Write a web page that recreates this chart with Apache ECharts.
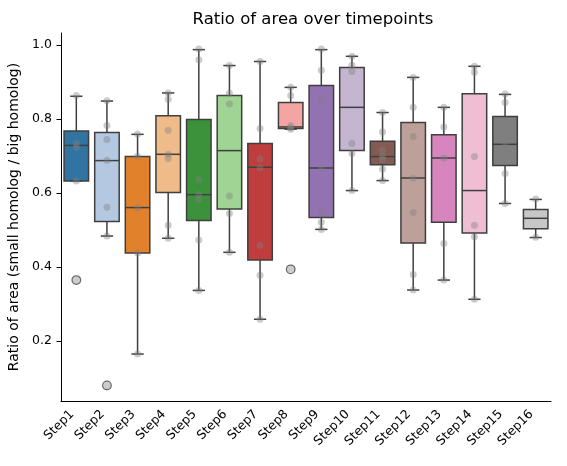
<!DOCTYPE html>
<html>
<head>
<meta charset="utf-8">
<script src="https://cdn.jsdelivr.net/npm/echarts@6/dist/echarts.min.js"></script>
<style>
  html, body { margin: 0; padding: 0; background: #fff; }
  #chart { width: 567px; height: 466px; }
</style>
</head>
<body>
<div id="chart"></div>
<script>
// categories
var steps = ["Step1", "Step2", "Step3", "Step4", "Step5", "Step6", "Step7", "Step8",
  "Step9", "Step10", "Step11", "Step12", "Step13", "Step14", "Step15", "Step16"];

// box stats per step: [whisker low, Q1, median, Q3, whisker high]
var boxStats = [
  [0.633, 0.633, 0.729, 0.768, 0.862],
  [0.484, 0.523, 0.688, 0.764, 0.849],
  [0.165, 0.438, 0.561, 0.699, 0.759],
  [0.478, 0.602, 0.705, 0.809, 0.871],
  [0.337, 0.526, 0.596, 0.799, 0.988],
  [0.440, 0.557, 0.715, 0.864, 0.945],
  [0.259, 0.419, 0.670, 0.734, 0.956],
  [0.773, 0.775, 0.779, 0.845, 0.886],
  [0.502, 0.534, 0.668, 0.891, 0.988],
  [0.607, 0.715, 0.832, 0.940, 0.970],
  [0.634, 0.677, 0.699, 0.740, 0.818],
  [0.338, 0.465, 0.641, 0.791, 0.913],
  [0.365, 0.521, 0.695, 0.758, 0.832],
  [0.313, 0.492, 0.607, 0.869, 0.943],
  [0.572, 0.675, 0.732, 0.807, 0.867],
  [0.480, 0.504, 0.532, 0.556, 0.583]
];

// outliers: [step index, value]
var outliers = [[0, 0.365], [1, 0.080], [7, 0.394]];

// individual observations per step (strip points)
var points = [
  [0.864, 0.734, 0.724, 0.633, 0.365],
  [0.850, 0.783, 0.745, 0.689, 0.562, 0.484, 0.080],
  [0.760, 0.700, 0.560, 0.438, 0.165],
  [0.871, 0.854, 0.770, 0.705, 0.694, 0.513, 0.478],
  [0.990, 0.961, 0.637, 0.596, 0.583, 0.473, 0.337],
  [0.945, 0.870, 0.841, 0.592, 0.545, 0.440],
  [0.956, 0.775, 0.692, 0.669, 0.459, 0.378, 0.259],
  [0.886, 0.864, 0.782, 0.777, 0.773, 0.394],
  [0.990, 0.932, 0.853, 0.668, 0.548, 0.521, 0.502],
  [0.970, 0.946, 0.929, 0.734, 0.707, 0.607],
  [0.818, 0.765, 0.716, 0.700, 0.691, 0.665, 0.634],
  [0.913, 0.832, 0.753, 0.640, 0.548, 0.380, 0.338],
  [0.832, 0.779, 0.695, 0.464, 0.365],
  [0.943, 0.927, 0.699, 0.513, 0.482, 0.313],
  [0.868, 0.845, 0.732, 0.653, 0.572],
  [0.584, 0.481]
];

var yTicks = [0.2, 0.4, 0.6, 0.8, 1.0];

var palette = ["#1f77b4", "#aec7e8", "#ff7f0e", "#ffbb78", "#2ca02c", "#98df8a",
  "#d62728", "#ff9896", "#9467bd", "#c5b0d5", "#8c564b", "#c49c94",
  "#e377c2", "#f7b6d2", "#7f7f7f", "#c7c7c7"];

// seaborn-style desaturation (saturation = 0.75) in HLS space
function desat(hex, prop) {
  var r = parseInt(hex.substr(1, 2), 16) / 255;
  var g = parseInt(hex.substr(3, 2), 16) / 255;
  var b = parseInt(hex.substr(5, 2), 16) / 255;
  var mx = Math.max(r, g, b), mn = Math.min(r, g, b);
  var l = (mx + mn) / 2;
  if (mx === mn) return hex;
  var d = mx - mn;
  var s = l > 0.5 ? d / (2 - mx - mn) : d / (mx + mn);
  var s2 = s * prop;
  var c = (1 - Math.abs(2 * l - 1)) * s2;
  var nmn = l - c / 2;
  function ch(v) {
    var t = nmn + (v - mn) / d * c;
    var n = Math.round(t * 255);
    return ("0" + n.toString(16)).slice(-2);
  }
  return "#" + ch(r) + ch(g) + ch(b);
}
var boxColors = palette.map(function (c) { return desat(c, 0.75); });

var lineColor = "#3f3f3f";

var boxData = boxStats.map(function (s, i) {
  return [i, s[0], s[1], s[2], s[3], s[4]];
});

var stripData = [];
points.forEach(function (arr, i) {
  arr.forEach(function (v) { stripData.push([i, v]); });
});

var myChart = echarts.init(document.getElementById("chart"));
myChart.setOption({
  animation: false,
  title: {
    text: "Ratio of area over timepoints",
    left: 308,
    top: 6,
    textAlign: "center",
    textStyle: {
      fontFamily: "DejaVu Sans",
      fontSize: 16.5,
      fontWeight: "normal",
      color: "#000"
    }
  },
  grid: {
    left: 61,
    right: 16,
    top: 33,
    bottom: 65,
    outerBoundsMode: "none"
  },
  xAxis: {
    type: "category",
    data: steps,
    axisLine: { lineStyle: { color: "#000", width: 1 } },
    axisTick: { alignWithLabel: true, length: 4.5, lineStyle: { color: "#000" } },
    axisLabel: {
      rotate: 45,
      margin: 7,
      padding: [0, 6, 0, 0],
      interval: 0,
      fontFamily: "DejaVu Sans",
      fontSize: 12.5,
      color: "#000"
    },
    splitLine: { show: false }
  },
  yAxis: {
    type: "value",
    min: 0.038,
    max: 1.033,
    name: "Ratio of area (small homolog / big homolog)",
    nameLocation: "middle",
    nameGap: 37,
    nameTextStyle: {
      fontFamily: "DejaVu Sans",
      fontSize: 14,
      color: "#000"
    },
    axisLine: { show: true, lineStyle: { color: "#000", width: 1 } },
    axisTick: { show: true, length: 4.5, customValues: yTicks, lineStyle: { color: "#000" } },
    axisLabel: {
      customValues: yTicks,
      margin: 9,
      fontFamily: "DejaVu Sans",
      fontSize: 12.5,
      color: "#000",
      formatter: function (v) { return v.toFixed(1); }
    },
    splitLine: { show: false }
  },
  series: [
    {
      type: "custom",
      data: boxData,
      encode: { x: 0, y: [1, 2, 3, 4, 5] },
      renderItem: function (params, api) {
        var idx = api.value(0);
        var pLo = api.coord([idx, api.value(1)]);
        var pQ1 = api.coord([idx, api.value(2)]);
        var pMed = api.coord([idx, api.value(3)]);
        var pQ3 = api.coord([idx, api.value(4)]);
        var pHi = api.coord([idx, api.value(5)]);
        var bw = api.size([1, 0])[0] * 0.8;
        var cx = pMed[0];
        var half = bw / 2, cap = bw / 4;
        var ls = { stroke: lineColor, lineWidth: 1.5 };
        return {
          type: "group",
          children: [
            { type: "line", shape: { x1: cx, y1: pQ3[1], x2: cx, y2: pHi[1] }, style: ls },
            { type: "line", shape: { x1: cx, y1: pQ1[1], x2: cx, y2: pLo[1] }, style: ls },
            { type: "line", shape: { x1: cx - cap, y1: pHi[1], x2: cx + cap, y2: pHi[1] }, style: ls },
            { type: "line", shape: { x1: cx - cap, y1: pLo[1], x2: cx + cap, y2: pLo[1] }, style: ls },
            {
              type: "rect",
              shape: { x: cx - half, y: pQ3[1], width: bw, height: pQ1[1] - pQ3[1] },
              style: { fill: boxColors[idx], stroke: lineColor, lineWidth: 1.5 }
            },
            { type: "line", shape: { x1: cx - half, y1: pMed[1], x2: cx + half, y2: pMed[1] }, style: ls }
          ]
        };
      },
      z: 2
    },
    {
      type: "scatter",
      data: outliers,
      symbol: "circle",
      symbolSize: 8.5,
      itemStyle: { color: "rgba(255,255,255,0)", borderColor: lineColor, borderWidth: 1.3 },
      z: 3
    },
    {
      type: "scatter",
      data: stripData,
      symbol: "circle",
      symbolSize: 7,
      itemStyle: { color: "rgba(128,128,128,0.5)" },
      z: 4
    }
  ]
});
</script>
</body>
</html>
